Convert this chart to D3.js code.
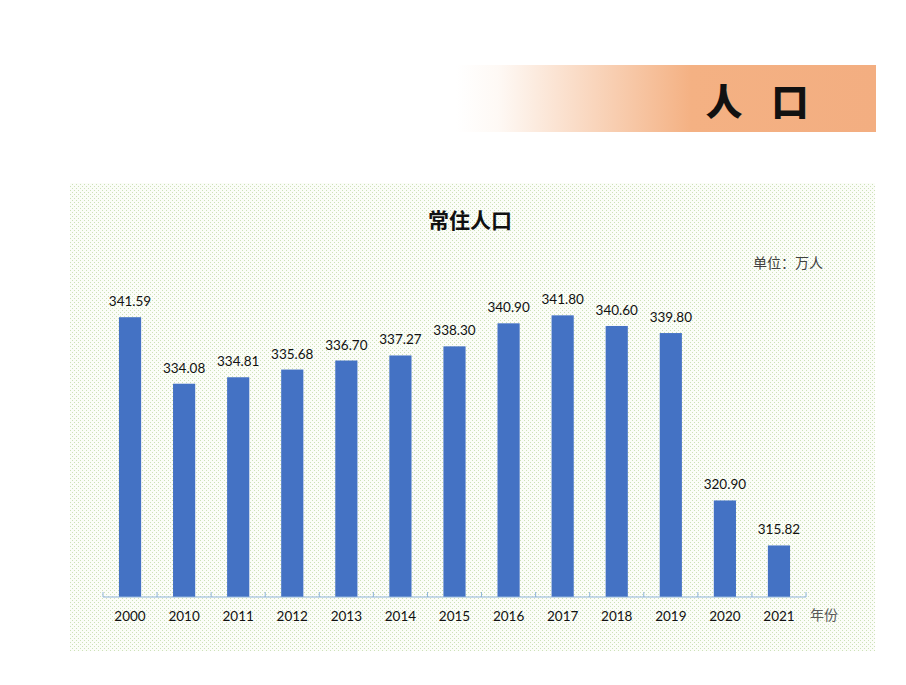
<!DOCTYPE html>
<html>
<head>
<meta charset="utf-8">
<script src="https://cdn.jsdelivr.net/npm/d3@7"></script>
<style>
  html, body { margin: 0; padding: 0; background: #ffffff; }
  svg { display: block; }
</style>
</head>
<body>
<script>
const years = ["2000","2010","2011","2012","2013","2014","2015","2016","2017","2018","2019","2020","2021"];
const population = [341.59, 334.08, 334.81, 335.68, 336.70, 337.27, 338.30, 340.90, 341.80, 340.60, 339.80, 320.90, 315.82];
const labels = ["341.59","334.08","334.81","335.68","336.70","337.27","338.30","340.90","341.80","340.60","339.80","320.90","315.82"];
const headerChars = ["人", "口"];
const chartTitle = "常住人口";
const unitText = "单位：万人";
const axisName = "年份";

const W = 906, H = 685;
const svg = d3.select("body").append("svg").attr("width", W).attr("height", H);
const defs = svg.append("defs");

// header gradient
const grad = defs.append("linearGradient").attr("id", "hdr").attr("x1", "0%").attr("x2", "100%").attr("y1", "0%").attr("y2", "0%");
grad.append("stop").attr("offset", "0%").attr("stop-color", "#ffffff");
grad.append("stop").attr("offset", "10%").attr("stop-color", "#fef9f5");
grad.append("stop").attr("offset", "56%").attr("stop-color", "#f4b183");
grad.append("stop").attr("offset", "100%").attr("stop-color", "#f3ae81");

svg.append("rect").attr("x", 456).attr("y", 65).attr("width", 420).attr("height", 67).attr("fill", "url(#hdr)");
const hdrFont = "'Noto Sans CJK SC', sans-serif";
svg.append("text").attr("x", 724).attr("y", 100).attr("text-anchor", "middle").attr("dominant-baseline", "central")
  .attr("font-family", hdrFont).attr("font-weight", 900).attr("font-size", 37).attr("fill", "#111").text(headerChars[0]);
svg.append("text").attr("x", 790).attr("y", 100).attr("text-anchor", "middle").attr("dominant-baseline", "central")
  .attr("font-family", hdrFont).attr("font-weight", 900).attr("font-size", 37).attr("fill", "#111").text(headerChars[1]);

// dotted background pattern
const pat = defs.append("pattern").attr("id", "dots").attr("patternUnits", "userSpaceOnUse")
  .attr("width", 4).attr("height", 4);
pat.append("rect").attr("width", 4).attr("height", 4).attr("fill", "#fbfdf8");
pat.append("rect").attr("x", 0).attr("y", 0).attr("width", 1).attr("height", 1).attr("fill", "#cde1b8");
pat.append("rect").attr("x", 2).attr("y", 2).attr("width", 1).attr("height", 1).attr("fill", "#cde1b8");

svg.append("rect").attr("x", 70).attr("y", 183).attr("width", 805).attr("height", 468).attr("fill", "url(#dots)");

// title & unit
svg.append("text").attr("x", 470).attr("y", 219).attr("text-anchor", "middle").attr("dominant-baseline", "central")
  .attr("font-family", hdrFont).attr("font-weight", 700).attr("font-size", 21).attr("fill", "#111").text(chartTitle);
svg.append("text").attr("x", 788).attr("y", 262).attr("text-anchor", "middle").attr("dominant-baseline", "central")
  .attr("font-family", hdrFont).attr("font-size", 14).attr("fill", "#404040").text(unitText);

// scales
const x = d3.scaleBand().domain(years).range([103, 806]).paddingInner(0.59).paddingOuter(0.295);
const y = d3.scaleLinear().domain([310, 345]).range([597, 287]);

// bars
svg.append("g").selectAll("rect").data(years).join("rect")
  .attr("x", d => x(d))
  .attr("width", x.bandwidth())
  .attr("y", (d, i) => y(population[i]))
  .attr("height", (d, i) => y(310) - y(population[i]))
  .attr("fill", "#4472c4");

// value labels
const numFont = "Lato, 'Open Sans', sans-serif";
svg.append("g").selectAll("text").data(years).join("text")
  .attr("x", d => x(d) + x.bandwidth() / 2)
  .attr("y", (d, i) => y(population[i]) - 11)
  .attr("text-anchor", "middle")
  .attr("font-family", numFont).attr("font-size", 13.5).attr("fill", "#111")
  .text((d, i) => labels[i]);

// axis
const axisColor = "#8fb4d9";
const step = x.step();
const axisG = svg.append("g");
axisG.append("line").attr("x1", 103).attr("x2", 806).attr("y1", 597).attr("y2", 597)
  .attr("stroke", axisColor).attr("stroke-width", 1.2);
const bounds = years.map(d => x(d) - (step - x.bandwidth()) / 2);
bounds.push(806);
axisG.selectAll("line.tick").data(bounds).join("line").attr("class", "tick")
  .attr("x1", d => d).attr("x2", d => d).attr("y1", 597).attr("y2", 592)
  .attr("stroke", axisColor).attr("stroke-width", 1);

svg.append("g").selectAll("text").data(years).join("text")
  .attr("x", d => x(d) + x.bandwidth() / 2)
  .attr("y", 621)
  .attr("text-anchor", "middle")
  .attr("font-family", numFont).attr("font-size", 13.5).attr("fill", "#111")
  .text(d => d);

svg.append("text").attr("x", 824).attr("y", 614).attr("text-anchor", "middle").attr("dominant-baseline", "central")
  .attr("font-family", hdrFont).attr("font-size", 14).attr("fill", "#595959").text(axisName);
</script>
</body>
</html>
